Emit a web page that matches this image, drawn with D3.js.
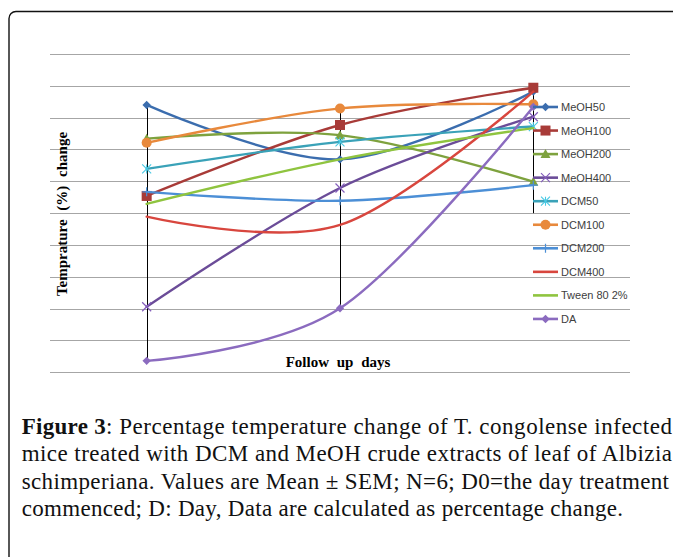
<!DOCTYPE html>
<html><head><meta charset="utf-8">
<script src="https://cdn.jsdelivr.net/npm/d3@7"></script>
<style>html,body{margin:0;padding:0;background:#fff;overflow:hidden}</style>
</head><body>
<svg id="chart" width="673" height="557"></svg>
<script>
// ---- data (values in arbitrary units; gridlines at 0..10, no tick labels shown) ----
const categories = ["Day 1", "Day 2", "Day 3"];
const seriesNames = ["MeOH50","MeOH100","MeOH200","MeOH400","DCM50","DCM100","DCM200","DCM400","Tween 80 2%","DA"];
const meoh50  = [8.40, 6.69, 8.82];
const meoh100 = [5.54, 7.77, 8.94];
const meoh200 = [7.34, 7.45, 5.99];
const meoh400 = [2.06, 5.79, 8.03];
const dcm50   = [6.39, 7.24, 7.72];
const dcm100  = [7.21, 8.29, 8.42];
const dcm200  = [5.67, 5.39, 5.88];
const dcm400  = [4.89, 4.63, 8.82];
const tween   = [5.29, 6.69, 7.67];
const da      = [0.36, 2.01, 8.34];
const hiLoHigh = [8.40, 8.29, 8.94];
const hiLoLow  = [0.36, 2.01, 5.00];
const gridTicks = [0,1,2,3,4,5,6,7,8,9,10];
const captionBold = "Figure 3";
const captionLines = [
  ": Percentage temperature change of T. congolense infected",
  "mice treated with DCM and MeOH crude extracts of leaf of Albizia",
  "schimperiana. Values are Mean \u00b1 SEM; N=6; D0=the day treatment",
  "commenced; D: Day, Data are calculated as percentage change."
];

const allValues = [meoh50, meoh100, meoh200, meoh400, dcm50, dcm100, dcm200, dcm400, tween, da];
const colors = ["#3B6DAE","#A83B38","#7EA23E","#6B4C98","#3AA2B8","#E8893C","#4C8FD6","#D8463E","#8FC43F","#8B6BBF"];
const markers = ["diamond","square","triangle","x","asterisk","circle","plus","none","none","diamond"];

const svg = d3.select("#chart");
// frame
svg.append("rect").attr("x",9).attr("y",11.5).attr("width",720).attr("height",620)
  .attr("rx",7).attr("fill","none").attr("stroke","#111").attr("stroke-width",1.4);

const x = d3.scalePoint().domain(categories).range([50, 630]).padding(0.5);
const y = d3.scaleLinear().domain([0, 10]).range([372.3, 54]);

// gridlines
svg.append("g").selectAll("line").data(gridTicks).join("line")
  .attr("x1",50).attr("x2",630)
  .attr("y1",d=>Math.round(y(d))+0.5).attr("y2",d=>Math.round(y(d))+0.5)
  .attr("stroke","#a6a6a6").attr("stroke-width",1);

// high-low lines
svg.append("g").selectAll("line").data(categories).join("line")
  .attr("x1",d=>Math.round(x(d))+0.5).attr("x2",d=>Math.round(x(d))+0.5)
  .attr("y1",(d,i)=>y(hiLoHigh[i])).attr("y2",(d,i)=>y(hiLoLow[i]))
  .attr("stroke","#000").attr("stroke-width",1);

function drawMarker(g, type, cx, cy, color) {
  if (type === "diamond") {
    const r = 4.2;
    g.append("path").attr("d",`M${cx},${cy-r}L${cx+r},${cy}L${cx},${cy+r}L${cx-r},${cy}Z`).attr("fill",color);
  } else if (type === "square") {
    const r = 5;
    g.append("rect").attr("x",cx-r).attr("y",cy-r).attr("width",2*r).attr("height",2*r).attr("fill",color);
  } else if (type === "triangle") {
    const r = 5;
    g.append("path").attr("d",`M${cx},${cy-r}L${cx+r},${cy+r*0.8}L${cx-r},${cy+r*0.8}Z`).attr("fill",color);
  } else if (type === "circle") {
    g.append("circle").attr("cx",cx).attr("cy",cy).attr("r",5).attr("fill",color);
  } else if (type === "x") {
    const r = 4.5;
    g.append("path").attr("d",`M${cx-r},${cy-r}L${cx+r},${cy+r}M${cx-r},${cy+r}L${cx+r},${cy-r}`)
      .attr("stroke",d3.color(color).brighter(0.6)).attr("stroke-width",1.2).attr("fill","none");
  } else if (type === "asterisk") {
    const r = 4.5;
    g.append("path").attr("d",`M${cx-r},${cy-r}L${cx+r},${cy+r}M${cx-r},${cy+r}L${cx+r},${cy-r}M${cx},${cy-r}L${cx},${cy+r}`)
      .attr("stroke",d3.color(color).brighter(0.6)).attr("stroke-width",1.1).attr("fill","none");
  } else if (type === "plus") {
    const r = 4.5;
    g.append("path").attr("d",`M${cx-r},${cy}L${cx+r},${cy}M${cx},${cy-r}L${cx},${cy+r}`)
      .attr("stroke",color).attr("stroke-width",1.2).attr("fill","none");
  }
}

const line = d3.line().x((d,i)=>x(categories[i])).y(d=>y(d)).curve(d3.curveCardinal.tension(0));
const plot = svg.append("g");
allValues.forEach((vals, si) => {
  const g = plot.append("g");
  g.append("path").attr("d", line(vals)).attr("fill","none")
    .attr("stroke", colors[si]).attr("stroke-width", 2.4).attr("stroke-linecap","round");
  vals.forEach((v,i)=> drawMarker(g, markers[si], x(categories[i]), y(v), colors[si]));
});

// legend
const leg = svg.append("g");
seriesNames.forEach((name, i) => {
  const cy = 107 + i*23.55;
  const g = leg.append("g");
  g.append("line").attr("x1",533).attr("x2",558).attr("y1",cy).attr("y2",cy)
    .attr("stroke",colors[i]).attr("stroke-width",2.6);
  drawMarker(g, markers[i], 545.5, cy, colors[i]);
  g.append("text").attr("x",561).attr("y",cy+4).text(name)
    .attr("font-family","'Liberation Sans', Arial, sans-serif").attr("font-size",11).attr("fill","#404040");
});

// axis titles
const serif = "'Liberation Serif','Times New Roman',serif";
svg.append("text").attr("x",338).attr("y",367).attr("text-anchor","middle")
  .attr("font-family",serif).attr("font-weight","bold")
  .attr("font-size",15).attr("word-spacing",4).attr("fill","#000").text("Follow up days");
svg.append("text").attr("transform","translate(67,214) rotate(-90)").attr("text-anchor","middle")
  .attr("font-family",serif).attr("font-weight","bold")
  .attr("font-size",15).attr("word-spacing",5).attr("fill","#000").text("Temprature (%) change");

// caption
const baselines = [433.5, 461, 488.5, 516];
const lineEnds = [672, 672, 669, 623];
svg.append("text").attr("x",21.7).attr("y",baselines[0]).attr("font-family",serif)
  .attr("font-size",23).attr("font-weight","bold").attr("fill","#111")
  .attr("textLength",84).attr("lengthAdjust","spacing").text(captionBold);
captionLines.forEach((t,i)=>{
  const x0 = i===0 ? 106 : 21.7;
  svg.append("text").attr("x",x0).attr("y",baselines[i]).attr("font-family",serif)
    .attr("font-size",23).attr("fill","#111")
    .attr("textLength",lineEnds[i]-x0).attr("lengthAdjust","spacing").text(t);
});
</script>
</body></html>
